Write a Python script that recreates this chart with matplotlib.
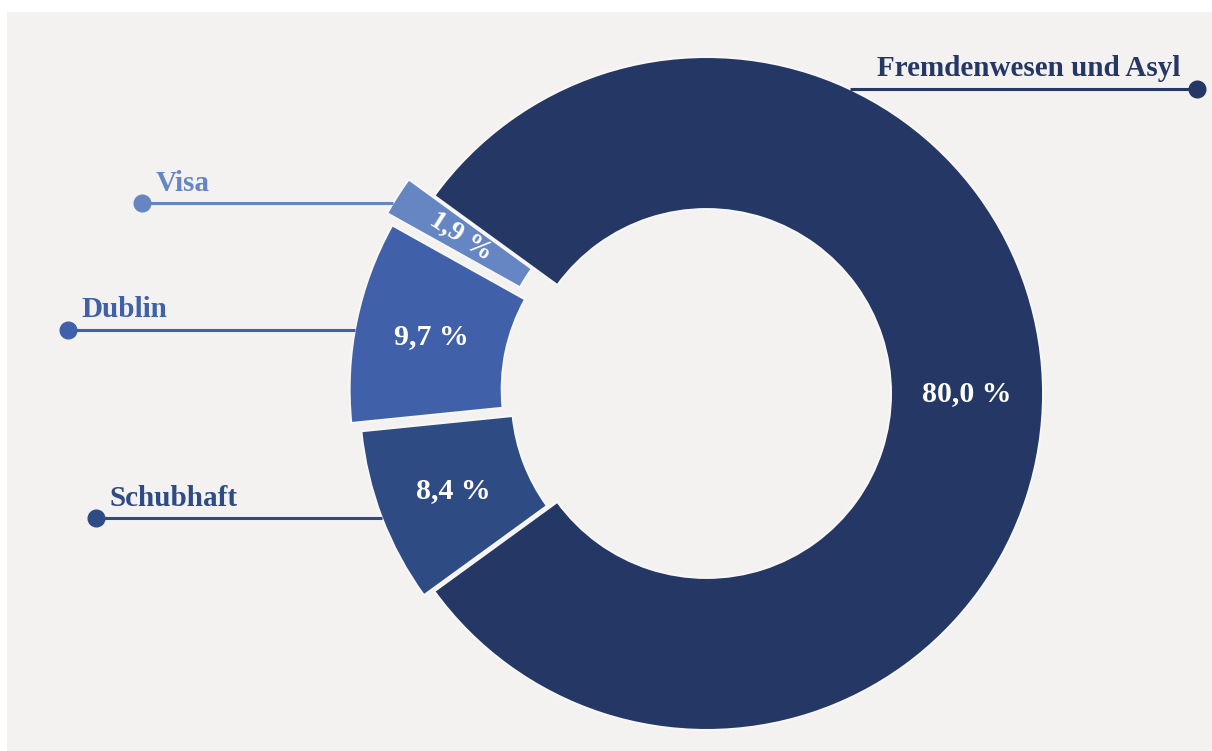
import matplotlib.pyplot as plt
import numpy as np

# Anteile der Verfahren (Prozent)
categories = ['Fremdenwesen und Asyl', 'Schubhaft', 'Dublin', 'Visa']
shares = [80.0, 8.4, 9.7, 1.9]
colors = ['#253764', '#2f4b84', '#4060a9', '#6585c3']
explode = [0.0, 0.033, 0.062, 0.09]

# Höhe der Hinweislinien und Lage der Endpunkte (in Radien)
leader_y = [0.905, -0.370, 0.189, 0.566]
dot_x = [1.458, -1.815, -1.898, -1.678]

bg = '#f3f2f0'
plt.rcParams['font.family'] = ['Liberation Serif', 'DejaVu Serif']
plt.rcParams['font.weight'] = 'bold'

fig = plt.figure(figsize=(12.12, 7.51), dpi=100, facecolor='white')
ax = fig.add_axes([7 / 1212, 0, 1205 / 1212, 739 / 751])

wedges, texts, autotexts = ax.pie(
    shares, colors=colors, explode=explode, startangle=144, counterclock=False,
    radius=1.0, wedgeprops=dict(width=0.452, edgecolor='#f7f7f5', linewidth=1.5),
    autopct=lambda p: f'{p:.1f} %'.replace('.', ','), pctdistance=0.774,
    textprops=dict(color='white', fontsize=21.5, fontweight='bold'))

# 1,9 % entlang des schmalen Segments drehen
w = wedges[3]
mid = (w.theta1 + w.theta2) / 2
autotexts[3].set_rotation(mid - 180)
autotexts[3].set_fontsize(20)

for wd, name, col, y, dx in zip(wedges, categories, colors, leader_y, dot_x):
    cx, cy = wd.center
    half = np.sqrt(1 - (y - cy) ** 2)
    x0 = cx + half if dx > 0 else cx - half
    ax.plot([x0, dx], [y, y], color=col, lw=2.2, solid_capstyle='butt', zorder=1)
    ax.plot(dx, y, 'o', color=col, ms=12, zorder=3)
    if dx > 0:
        ax.annotate(name, (dx, y), xytext=(-12, 9), textcoords='offset points',
                    ha='right', va='baseline', color=col, fontsize=21, fontweight='bold')
    else:
        ax.annotate(name, (dx, y), xytext=(10, 9), textcoords='offset points',
                    ha='left', va='baseline', color=col, fontsize=21, fontweight='bold')

ax.set_aspect('auto')
ax.set_xlim(-2.0788, 1.502)
ax.set_ylim(-1.0624, 1.1337)
ax.set_frame_on(True)
ax.set_facecolor(bg)
for s in ax.spines.values():
    s.set_visible(False)
ax.set_xticks([])
ax.set_yticks([])

fig.savefig('out.png', dpi=100, facecolor='white')
